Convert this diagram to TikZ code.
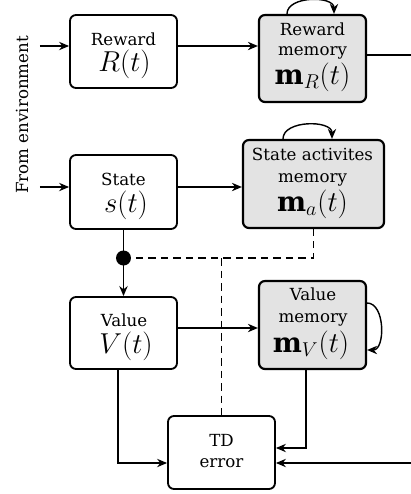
\documentclass[tikz,border=0pt]{standalone}
\usepackage{fontspec}
\setmainfont{DejaVu Serif}
\usetikzlibrary{arrows.meta}
\begin{document}
\begin{tikzpicture}[x=0.6pt,y=-0.6pt,
  box/.style={draw,line width=1.1pt,rounded corners=3.6pt,inner sep=0pt},
  membox/.style={box,fill=gray!22,line width=1.3pt},
  lbl/.style={anchor=base,inner sep=0pt,font=\fontsize{10}{12}\selectfont},
  mlbl/.style={anchor=base,inner sep=0pt,font=\fontsize{16.5}{18}\selectfont},
  conn/.style={line width=0.85pt},
  arr/.style={conn,-{Stealth[length=6pt,width=5pt]}},
  dashline/.style={conn,dash pattern=on 4.5pt off 3pt}]
\useasboundingbox (0,0) rectangle (411,494);
% boxes
\node[box,minimum width=64.2pt,minimum height=43.8pt] (rew) at (123.5,51.5) {};
\node[membox,minimum width=64.2pt,minimum height=52.2pt] (rmem) at (312.5,58.5) {};
\node[box,minimum width=64.2pt,minimum height=44.4pt] (st) at (123.5,192) {};
\node[membox,minimum width=84.6pt,minimum height=52.8pt] (smem) at (313.5,184) {};
\node[box,minimum width=64.2pt,minimum height=43.2pt] (val) at (123.5,333) {};
\node[membox,minimum width=64.2pt,minimum height=52.8pt] (vmem) at (312.5,325) {};
\node[box,minimum width=64.2pt,minimum height=43.8pt] (td) at (221.5,452.5) {};
% texts
\node[lbl] (rew1) at (123.5,45) {Reward};
\node[mlbl] (rew2) at (124.5,71) {$R(t)$};
\node[lbl] (rmem1) at (312.5,35.7) {Reward};
\node[lbl] (rmem2) at (312.5,55.7) {memory};
\node[mlbl] (rmem3) at (312.5,84) {$\mathbf{m}_R(t)$};
\node[lbl] (st1) at (123.5,185.7) {State};
\node[mlbl] (st2) at (126,212.5) {$s(t)$};
\node[lbl] (smem1) at (312.5,160.7) {State activites};
\node[lbl] (smem2) at (312.5,182) {memory};
\node[mlbl] (smem3) at (312.5,211.5) {$\mathbf{m}_a(t)$};
\node[lbl] (val1) at (124,326.7) {Value};
\node[mlbl] (val2) at (126,353.5) {$V(t)$};
\node[lbl] (vmem1) at (313,300.7) {Value};
\node[lbl] (vmem2) at (313,322.7) {memory};
\node[mlbl] (vmem3) at (311,352.5) {$\mathbf{m}_V(t)$};
\node[lbl] (td1) at (221.5,446.3) {TD};
\node[lbl] (td2) at (221.5,467) {error};
\node[rotate=90,font=\fontsize{10}{12}\selectfont] (env) at (22,115) {From environment};
% connectors
\coordinate (e1) at (40,46);
\coordinate (e2) at (40,187);
\coordinate (out1) at (411,55);
\coordinate (in1) at (411,463);
\coordinate (vy) at (0,328);
\coordinate (dot) at (123.5,258);
\coordinate (vl) at (118,463);
\coordinate (vr) at (306,448);
\draw[arr] (e1) -- (e1 -| rew.west);
\draw[arr] (rew.east |- e1) -- (rmem.west |- e1);
\draw[conn] (rmem.east |- out1) -- (out1);
\draw[arr] ([xshift=-15.3pt]rmem.north) to[out=90,in=90] ([xshift=12.9pt]rmem.north);
\draw[arr] (e2) -- (e2 -| st.west);
\draw[arr] (st.east |- e2) -- (smem.west |- e2);
\draw[arr] ([xshift=-18.3pt]smem.north) to[out=90,in=90] ([xshift=11.1pt]smem.north);
\draw[arr] (st.south) -- (val.north);
\fill (dot) circle (4.5pt);
\draw[dashline] (dot) -- (dot -| smem.south) -- (smem.south);
\draw[dashline] (td.north |- dot) -- (td.north);
\draw[arr] (val.east |- vy) -- (vmem.west |- vy);
\draw[arr] ([yshift=13.2pt]vmem.east) to[out=0,in=0] ([yshift=-15pt]vmem.east);
\draw[arr] (val.south -| vl) -- (vl) -- (vl -| td.west);
\draw[arr] (vmem.south -| vr) -- (vr) -- (vr -| td.east);
\draw[arr] (in1) -- (in1 -| td.east);
\end{tikzpicture}
\end{document}
